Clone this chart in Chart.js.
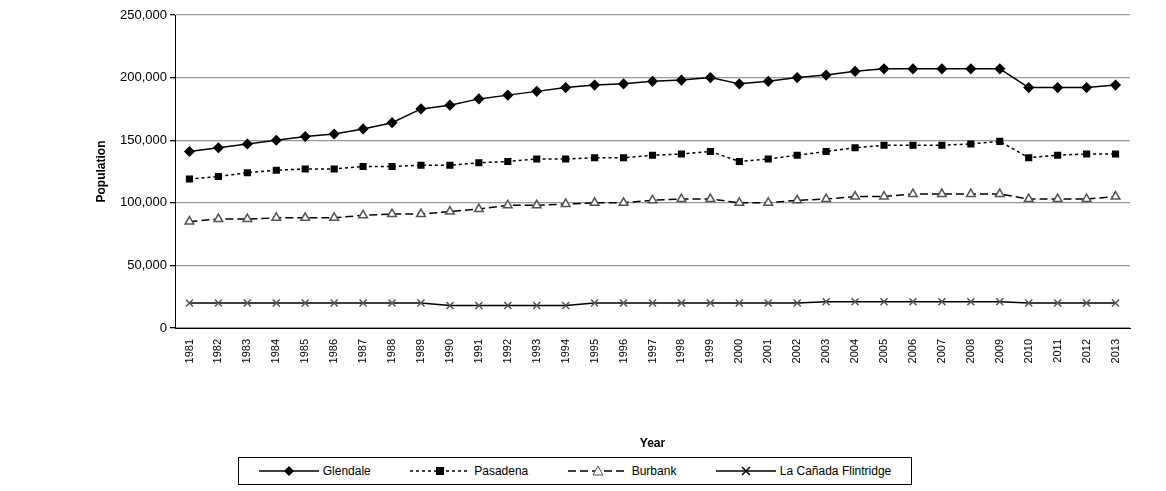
<!DOCTYPE html>
<html><head><meta charset="utf-8">
<script src="https://cdn.jsdelivr.net/npm/chart.js@4"></script>
<style>
body{margin:0;background:#fff;font-family:"Liberation Sans",Arial,sans-serif;}
#wrap{position:relative;width:1166px;height:455px;}
#legend{position:absolute;left:238px;top:457px;width:674px;height:28px;border:1px solid #000;box-sizing:border-box;display:flex;justify-content:space-around;align-items:center;font-size:12px;}
#legend span{display:flex;align-items:center;gap:4px;}
</style></head><body>
<div id="wrap"><canvas id="c" width="1166" height="455"></canvas></div>
<div id="legend">
<span><svg width="60" height="12"><line x1="0" y1="6" x2="60" y2="6" stroke="#000" stroke-width="1.5"/><polygon points="30,1 35,6 30,11 25,6" fill="#000"/></svg>Glendale</span>
<span><svg width="60" height="12"><line x1="0" y1="6" x2="60" y2="6" stroke="#000" stroke-width="1.5" stroke-dasharray="3,3"/><rect x="26" y="2" width="8" height="8" fill="#000"/></svg>Pasadena</span>
<span><svg width="60" height="12"><line x1="0" y1="6" x2="60" y2="6" stroke="#000" stroke-width="1.5" stroke-dasharray="8,4"/><polygon points="30,1 35,10 25,10" fill="#fff" stroke="#555"/></svg>Burbank</span>
<span><svg width="60" height="12"><line x1="0" y1="6" x2="60" y2="6" stroke="#000" stroke-width="1.5"/><path d="M26,2L34,10M34,2L26,10" stroke="#000" stroke-width="1.5"/></svg>La Cañada Flintridge</span>
</div>
<script>
const years = [];
for (let y = 1981; y <= 2013; y++) years.push(String(y));
const glendale = [141000,144000,147000,150000,153000,155000,159000,164000,175000,178000,183000,186000,189000,192000,194000,195000,197000,198000,200000,195000,197000,200000,202000,205000,207000,207000,207000,207000,207000,192000,192000,192000,194000];
const pasadena = [119000,121000,124000,126000,127000,127000,129000,129000,130000,130000,132000,133000,135000,135000,136000,136000,138000,139000,141000,133000,135000,138000,141000,144000,146000,146000,146000,147000,149000,136000,138000,139000,139000];
const burbank = [85000,87000,87000,88000,88000,88000,90000,91000,91000,93000,95000,98000,98000,99000,100000,100000,102000,103000,103000,100000,100000,102000,103000,105000,105000,107000,107000,107000,107000,103000,103000,103000,105000];
const lacanada = [20000,20000,20000,20000,20000,20000,20000,20000,20000,18000,18000,18000,18000,18000,20000,20000,20000,20000,20000,20000,20000,20000,21000,21000,21000,21000,21000,21000,21000,20000,20000,20000,20000];

Chart.defaults.font.family = '"Liberation Sans", Arial, sans-serif';
Chart.defaults.color = '#000';
new Chart(document.getElementById('c'), {
  type: 'line',
  data: {
    labels: years,
    datasets: [
      { label: 'Glendale', data: glendale, borderColor: '#000', backgroundColor: '#000', borderWidth: 1.5, pointStyle: 'rectRot', pointRadius: 4.5 },
      { label: 'Pasadena', data: pasadena, borderColor: '#000', backgroundColor: '#000', borderWidth: 1.5, borderDash: [3, 3], pointStyle: 'rect', pointRadius: 4 },
      { label: 'Burbank', data: burbank, borderColor: '#000', borderWidth: 1.5, borderDash: [8, 4], pointStyle: 'triangle', pointRadius: 5, pointBackgroundColor: '#fff', pointBorderColor: '#555' },
      { label: 'La Cañada Flintridge', data: lacanada, borderColor: '#000', backgroundColor: '#000', borderWidth: 1.5, pointStyle: 'crossRot', pointRadius: 5, pointBorderColor: '#555' }
    ]
  },
  options: {
    responsive: false, animation: false,
    layout: { padding: { left: 12, right: 36, top: 15 } },
    plugins: { legend: { display: false }, tooltip: { enabled: false } },
    scales: {
      x: {
        offset: true,
        grid: { display: false },
        border: { color: '#000' },
        ticks: { autoSkip: false, maxRotation: 90, minRotation: 90, font: { size: 11 } },
        title: { display: true, text: 'Year', font: { size: 12, weight: 'bold' }, padding: { top: 52 } },
        afterFit: s => { s.height = 127; }
      },
      y: {
        min: 0, max: 250000,
        ticks: { stepSize: 50000, font: { size: 13 }, callback: v => v.toLocaleString('en-US') },
        grid: { color: '#999', lineWidth: 1.3, tickColor: '#000', tickLength: 5 },
        border: { color: '#000' },
        title: { display: true, text: 'Population', font: { size: 12, weight: 'bold' }, padding: { top: 82, bottom: 40 } },
        afterFit: s => { s.width = 163; }
      }
    }
  }
});
</script>
</body></html>
